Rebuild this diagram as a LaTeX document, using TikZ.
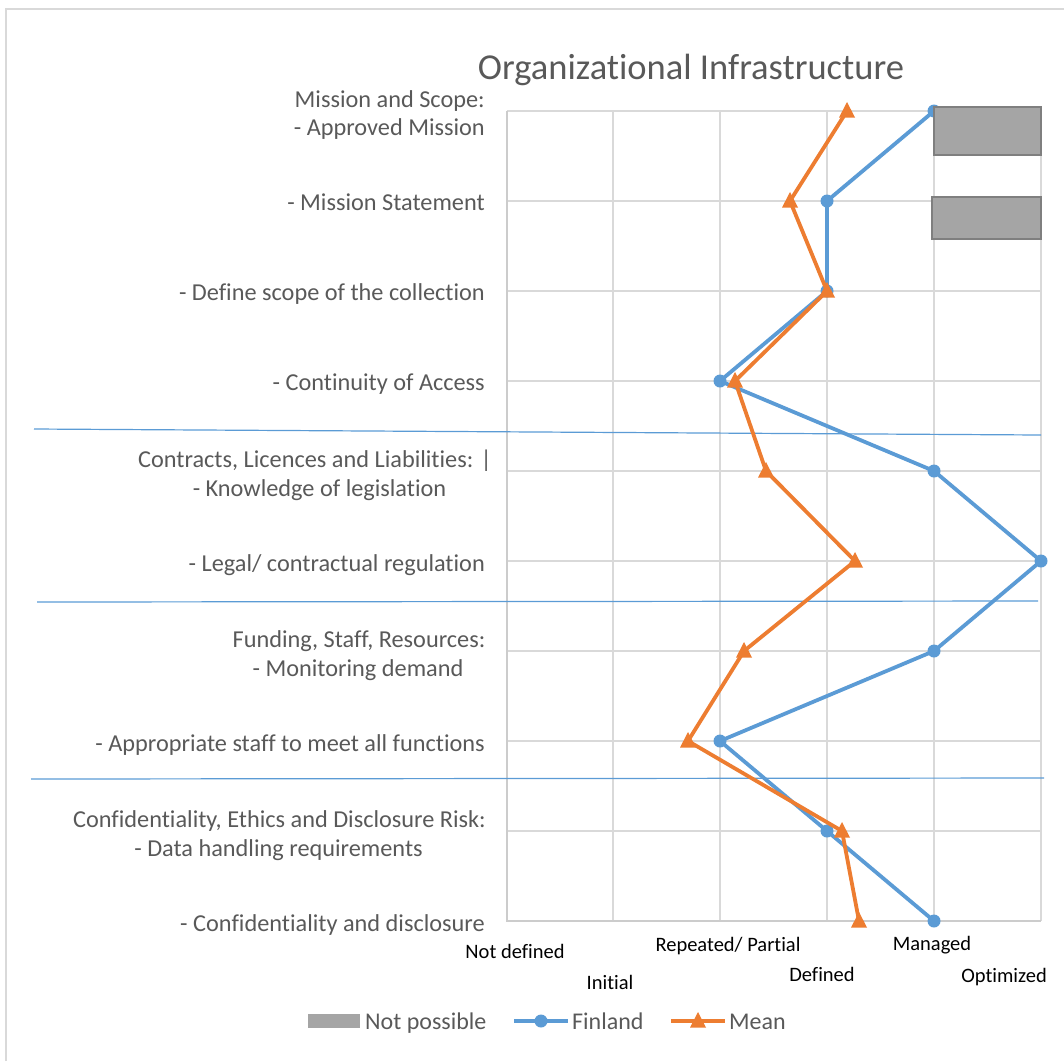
\documentclass[tikz,border=0pt]{standalone}
\usepackage{fontspec}
\setmainfont{Carlito}[Ligatures=NoCommon]
\definecolor{txtgray}{HTML}{595959}
\definecolor{gridgray}{HTML}{D9D9D9}
\definecolor{axisgray}{HTML}{CCCCCC}
\definecolor{fblue}{HTML}{5B9BD5}
\definecolor{morange}{HTML}{ED7D31}
\definecolor{npfill}{HTML}{A5A5A5}
\definecolor{npdraw}{HTML}{7F7F7F}
\begin{document}
\begin{tikzpicture}[x=1pt,y=-1pt,
  lbl/.style={text=txtgray, font=\fontsize{24.3}{28}\selectfont, inner sep=0},
  axlbl/.style={text=black, font=\fontsize{20.5}{24}\selectfont, inner sep=0, anchor=base},
  leg/.style={text=txtgray, font=\fontsize{24}{28}\selectfont, inner sep=0, anchor=base west},
  gridline/.style={gridgray, line width=2pt},
  sepline/.style={fblue, line width=1.2pt},
  fline/.style={fblue, line width=3.8pt, line join=round},
  mline/.style={morange, line width=3.8pt, line join=round},
  npbox/.style={fill=npfill, draw=npdraw, line width=2pt}
]
\useasboundingbox (0,0) rectangle (1064,1061);
% outer frame
\draw[gridgray, line width=2pt] (6,1061) -- (6,9) -- (1064,9);

% title
\node[text=txtgray, font=\fontsize{36.5}{40}\selectfont, inner sep=0, anchor=base] (title) at (691,79) {Organizational Infrastructure};

% grid
\foreach \x in {613,720,827,934,1041} \draw[gridline] (\x,111) -- (\x,921);
\foreach \y in {111,201,291,381,471,561,651,741,831} \draw[gridline] (507,\y) -- (1041,\y);
\draw[axisgray, line width=2pt] (507,111) -- (507,921) -- (1041,921);

% category labels
\node[lbl, anchor=base east] (l1a) at (485,107) {Mission and Scope:};
\node[lbl, anchor=base east] (l1b) at (485,135) {- Approved Mission};
\node[lbl, anchor=base east] (l2) at (485,210) {- Mission Statement};
\node[lbl, anchor=base east] (l3) at (485,300) {- Define scope of the collection};
\node[lbl, anchor=base east] (l4) at (485,390) {- Continuity of Access};
\node[lbl, anchor=base] (l5a) at (315,467) {Contracts, Licences and Liabilities: |};
\node[lbl, anchor=base] (l5b) at (319.5,496) {- Knowledge of legislation};
\node[lbl, anchor=base east] (l6) at (485,571) {- Legal/ contractual regulation};
\node[lbl, anchor=base] (l7a) at (359,647) {Funding, Staff, Resources:};
\node[lbl, anchor=base] (l7b) at (358,676) {- Monitoring demand};
\node[lbl, anchor=base east] (l8) at (485,751) {- Appropriate staff to meet all functions};
\node[lbl, anchor=base] (l9a) at (279.5,827) {Confidentiality, Ethics and Disclosure Risk:};
\node[lbl, anchor=base] (l9b) at (278.5,856) {- Data handling requirements};
\node[lbl, anchor=base east] (l10) at (485,931) {- Confidentiality and disclosure};

% axis labels
\node[axlbl] (x0) at (515,958) {Not defined};
\node[axlbl] (x1) at (610,989) {Initial};
\node[axlbl] (x2) at (728,951) {Repeated/ Partial};
\node[axlbl] (x3) at (822,981) {Defined};
\node[axlbl] (x4) at (932,950) {Managed};
\node[axlbl] (x5) at (1004,982) {Optimized};

% separators
\draw[sepline] (34,429) -- (1041,435);
\draw[sepline] (37,602) -- (1038,601);
\draw[sepline] (31,779) -- (1044,778);

% data points
\coordinate (f1) at (934,111);  \coordinate (m1) at (847,111);
\coordinate (f2) at (827,201);  \coordinate (m2) at (790,201);
\coordinate (f3) at (827,291);  \coordinate (m3) at (827,291);
\coordinate (f4) at (720,381);  \coordinate (m4) at (735,381);
\coordinate (f5) at (934,471);  \coordinate (m5) at (766,471);
\coordinate (f6) at (1041,561); \coordinate (m6) at (855,561);
\coordinate (f7) at (934,651);  \coordinate (m7) at (744,651);
\coordinate (f8) at (720,741);  \coordinate (m8) at (688,741);
\coordinate (f9) at (827,831);  \coordinate (m9) at (842,831);
\coordinate (f10) at (934,921); \coordinate (m10) at (859,921);

% Finland
\draw[fline] (f1) -- (f2) -- (f3) -- (f4) -- (f5) -- (f6) -- (f7) -- (f8) -- (f9) -- (f10);
\foreach \p in {f1,f2,f3,f4,f5,f6,f7,f8,f9,f10} \fill[fblue] (\p) circle (6.5);

% not possible boxes
\draw[npbox] (934,107) rectangle (1041,155);
\draw[npbox] (932,197) rectangle (1041,239);

% Mean
\draw[mline] (m1) -- (m2) -- (m3) -- (m4) -- (m5) -- (m6) -- (m7) -- (m8) -- (m9) -- (m10);
\foreach \p in {m1,m2,m3,m4,m5,m6,m7,m8,m9,m10} \fill[morange, shift={(\p)}] (-8,6.5) -- (8,6.5) -- (0,-9) -- cycle;

% legend
\fill[npfill] (308,1014) rectangle (360,1028);
\node[leg] (lg1) at (365,1029) {Not possible};
\coordinate (lf1) at (514,1021); \coordinate (lf2) at (568,1021); \coordinate (lfm) at (541,1021);
\draw[fline] (lf1) -- (lf2);
\fill[fblue] (lfm) circle (6.5);
\node[leg] (lg2) at (572,1029) {Finland};
\coordinate (lm1) at (671,1021); \coordinate (lm2) at (725,1021); \coordinate (lmm) at (698,1021);
\draw[mline] (lm1) -- (lm2);
\fill[morange, shift={(lmm)}] (-8,6.5) -- (8,6.5) -- (0,-9) -- cycle;
\node[leg] (lg3) at (729,1029) {Mean};
\end{tikzpicture}
\end{document}
